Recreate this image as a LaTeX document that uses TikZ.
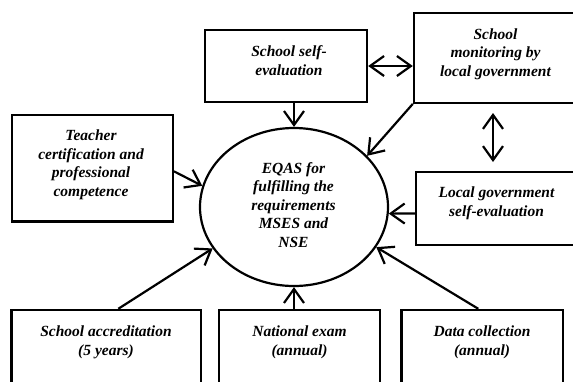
\documentclass[tikz,border=0pt]{standalone}
\usepackage{fontspec}
\setmainfont{Liberation Serif}
\usetikzlibrary{arrows.meta,shapes.geometric}
\begin{document}
\begin{tikzpicture}[x=1pt,y=-1pt,
  box/.style={draw,line width=2.4pt,rectangle,inner sep=0pt},
  txt/.style={align=center,inner sep=0pt,anchor=base,font=\fontsize{15.5}{18.4}\selectfont\bfseries\itshape},
  arr/.style={line width=2.2pt,-{Straight Barb[length=14pt,width=20pt]}},
  dbl/.style={line width=2.2pt,{Straight Barb[length=14pt,width=20pt]}-{Straight Barb[length=14pt,width=20pt]}}]
\clip (0,0) rectangle (573,381);
% boxes
\node[box,minimum width=162pt,minimum height=72pt] (selfeval) at (286,66) {};
\node[box,minimum width=176pt,minimum height=90pt] (monitor) at (502,57.7) {};
\node[box,minimum width=161pt,minimum height=106.7pt] (teacher) at (92.2,168.3) {};
\node[box,minimum width=174pt,minimum height=73pt] (localgov) at (503,208.5) {};
\node[box,minimum width=189.3pt,minimum height=90pt] (accred) at (106.3,355) {};
\node[box,minimum width=161pt,minimum height=90pt] (natexam) at (299.5,355) {};
\node[box,minimum width=161.3pt,minimum height=90pt] (data) at (482.3,355) {};
\node[draw,line width=2.2pt,ellipse,inner sep=0pt,minimum width=188pt,minimum height=158pt] (eq) at (294,207) {};
% texts (anchor = baseline of last line)
\node[txt] (tselfeval) at (289,75) {School self-\\evaluation};
\node[txt] (tmonitor) at (495.5,76) {School\\monitoring by\\local government};
\node[txt] (tteacher) at (91,196) {Teacher\\certification and\\professional\\competence};
\node[txt] (tlocalgov) at (496.5,216) {Local government\\self-evaluation};
\node[txt] (teq) at (293.5,247) {EQAS for\\fulfilling the\\requirements\\MSES and\\NSE};
\node[txt] (taccred) at (106,355) {School accreditation\\(5 years)};
\node[txt] (tnatexam) at (299.5,355) {National exam\\(annual)};
\node[txt] (tdata) at (482,355) {Data collection\\(annual)};
% connectors
\coordinate (v1) at (493,113);
\coordinate (v2) at (493,162);
\draw[dbl] (selfeval.east) -- (selfeval.east -| monitor.west);
\draw[dbl] (v1) -- (v2);
\draw[arr] (selfeval.south -| eq.north) -- (eq.north);
\draw[arr] (monitor.south west) -- (eq.35);
\draw[arr] ([yshift=-3pt]teacher.east) -- (eq.167);
\draw[arr] ([yshift=-5pt]localgov.west) -- (eq.-4);
\draw[arr] ([xshift=12pt]accred.north) -- (eq.207);
\draw[arr] (natexam.north -| eq.south) -- (eq.south);
\draw[arr] ([xshift=-4pt]data.north) -- (eq.-26.4);
\end{tikzpicture}
\end{document}
